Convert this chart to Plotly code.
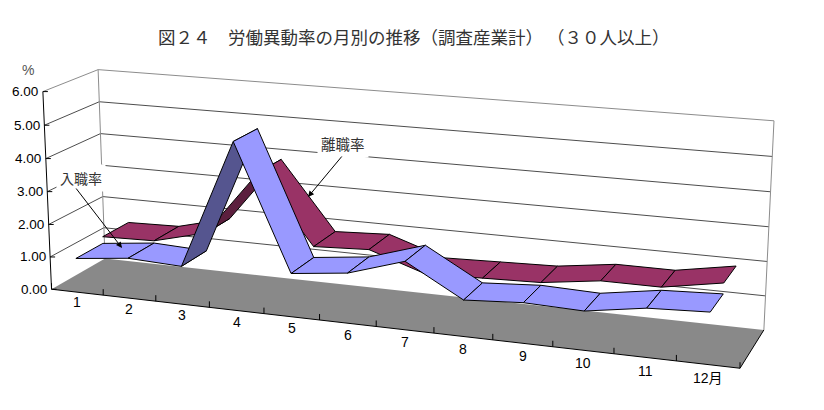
import plotly.graph_objects as go

months = ["1", "2", "3", "4", "5", "6", "7", "8", "9", "10", "11", "12月"]
nyushoku = [1.04, 1.22, 1.15, 5.00, 1.29, 1.48, 2.00, 1.06, 1.17, 1.12, 1.39, 1.47]
rishoku = [1.25, 1.29, 1.70, 3.69, 1.62, 1.70, 1.15, 1.20, 1.25, 1.48, 1.48, 1.78]
y_ticks = [0, 1, 2, 3, 4, 5, 6]

# perspective of the Excel style 3D box: month position, depth 0-1, value -> page pixel
M = [50.744374, 58.646524, -1.615082, 51.51997,
     3.284746, -18.003646, -33.319181, 289.222132,
     -0.008961, 0.048932, -0.004139]


def proj(u, d, v):
    w = M[8] * u + M[9] * d + M[10] * v + 1
    return ((M[0] * u + M[1] * d + M[2] * v + M[3]) / w,
            (M[4] * u + M[5] * d + M[6] * v + M[7]) / w)


fig = go.Figure()


def add_poly(pts, fill, line=None, pattern=None):
    fig.add_trace(go.Scatter(x=[p[0] for p in pts] + [pts[0][0]],
                             y=[p[1] for p in pts] + [pts[0][1]],
                             mode="lines", fill="toself", fillcolor=fill, fillpattern=pattern,
                             line=dict(color=line or fill, width=1 if line else 0),
                             hoverinfo="skip"))


def add_lines(segs, color, width=1):
    xs, ys = [], []
    for a, b in segs:
        xs += [a[0], b[0], None]
        ys += [a[1], b[1], None]
    fig.add_trace(go.Scatter(x=xs, y=ys, mode="lines", hoverinfo="skip",
                             line=dict(color=color, width=width)))


#walls
grid = []
for v in y_ticks[1:-1]:
    grid.append((proj(0, 0, v), proj(0, 1, v)))
    grid.append((proj(0, 1, v), proj(12, 1, v)))
add_lines(grid, "#4d4d4d")
add_lines([(proj(0, 0, 6), proj(0, 1, 6)), (proj(0, 1, 6), proj(12, 1, 6)),
           (proj(0, 1, 0), proj(0, 1, 6)), (proj(12, 1, 0), proj(12, 1, 6))], "#8c8c8c")

#floor, dithered in the original
add_poly([proj(0, 0, 0), proj(12, 0, 0), proj(12, 1, 0), proj(0, 1, 0)], "#999999",
         pattern=dict(shape=".", size=2, solidity=0.5, fgcolor="#4d4d4d"))
add_lines([(proj(0, 0, 0), proj(0, 0, 6)), (proj(0, 0, 0), proj(12, 0, 0)),
           (proj(12, 0, 0), proj(12, 1, 0))], "#000000")

ticks = []
for k in range(13):
    x, y = proj(k, 0, 0)
    ticks.append(((x, y), (x, y - 6)))
for v in y_ticks:
    x, y = proj(0, 0, v)
    ticks.append(((x, y), (x + 5, y)))
add_lines(ticks, "#000000")


def ribbon(values, d0, d1, light, dark):
    for i in range(len(values) - 1):
        quad = [proj(i + 0.5, d0, values[i]), proj(i + 1.5, d0, values[i + 1]),
                proj(i + 1.5, d1, values[i + 1]), proj(i + 0.5, d1, values[i])]
        # a face turned over on screen shows its underside
        e1 = (quad[1][0] - quad[0][0], quad[1][1] - quad[0][1])
        e2 = (quad[3][0] - quad[0][0], quad[3][1] - quad[0][1])
        under = e1[0] * e2[1] - e1[1] * e2[0] > 0
        add_poly(quad, dark if under else light, "#000000")


ribbon(rishoku, 0.5, 1.0, "#993366", "#5c1f3e")
ribbon(nyushoku, 0.0, 0.5, "#9999ff", "#55558f")

LAT = "Liberation Sans, Noto Sans CJK JP"
CJK = "Noto Sans CJK JP"
notes = []
for v in y_ticks:
    x, y = proj(0, 0, v)
    notes.append(dict(x=x - 2.5, y=y, text="%.2f" % v, xanchor="right",
                      font=dict(family=LAT, size=13.5, color="#000000")))
for i, m in enumerate(months):
    x, y = proj(i + 0.5, 0, 0)
    notes.append(dict(x=x, y=y + 10 + i * 0.35, text=m, xanchor="center",
                      font=dict(family=LAT, size=14, color="#000000")))
notes.append(dict(x=28, y=70, text="%", xanchor="center",
                  font=dict(family=LAT, size=14, color="#555555")))
notes.append(dict(x=413.5, y=36, text="図２４　労働異動率の月別の推移（調査産業計） （３０人以上）",
                  xanchor="center", font=dict(family=CJK, size=17.5, color="#333333")))
notes.append(dict(x=81, y=178, text="入職率", xanchor="center", bgcolor="#ffffff", borderpad=3,
                  font=dict(family=CJK, size=14, color="#333333")))
notes.append(dict(x=343, y=143, text="離職率", xanchor="center", bgcolor="#ffffff", borderpad=3,
                  font=dict(family=CJK, size=14.5, color="#333333")))
for n in notes:
    n.update(xref="x", yref="y", showarrow=False, yanchor="middle")
notes.append(dict(x=122, y=248, ax=75, ay=187, xref="x", yref="y", axref="x", ayref="y",
                  text="", showarrow=True, arrowhead=2, arrowsize=1.2, arrowwidth=1, arrowcolor="#000000"))
notes.append(dict(x=308, y=197, ax=343, ay=155, xref="x", yref="y", axref="x", ayref="y",
                  text="", showarrow=True, arrowhead=2, arrowsize=1.2, arrowwidth=1, arrowcolor="#000000"))

fig.update_layout(width=824, height=410, margin=dict(l=0, r=0, t=0, b=0),
                  paper_bgcolor="#ffffff", plot_bgcolor="#ffffff", showlegend=False,
                  xaxis=dict(range=[0, 824], visible=False, fixedrange=True),
                  yaxis=dict(range=[410, 0], visible=False, fixedrange=True),
                  annotations=notes)
fig.write_html("out.html", config={"displayModeBar": False},
               post_script="document.body.style.margin='0'")
